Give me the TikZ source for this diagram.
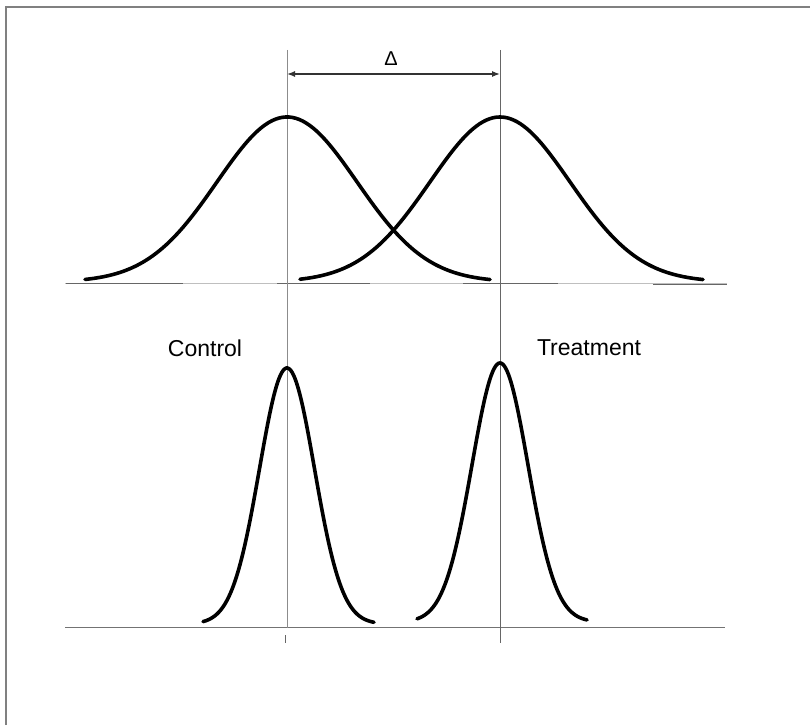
\documentclass[tikz,border=0pt]{standalone}
\usepackage{fontspec}
\setmainfont{Liberation Sans}
\usetikzlibrary{arrows.meta}
\begin{document}
\begin{tikzpicture}[x=1pt,y=-1pt,
  thin gray/.style={draw=black!45,line width=1pt},
  light base/.style={draw=black!25,line width=1pt},
  dark base/.style={draw=black!60,line width=1pt},
  curve/.style={draw=black,line width=3.6pt,line cap=round},
  lbl/.style={font=\fontsize{23}{23}\selectfont,text=black,inner sep=0pt}]
\useasboundingbox (0,0) rectangle (810,725);
% frame (top and left edges visible)
\draw[draw=black!50,line width=1.6pt] (6,725) -- (6,7) -- (810,7);
% top baseline
\draw[light base] (65,283) -- (727,283);
\draw[dark base] (66,283) -- (183,283);
\draw[dark base] (277,283) -- (370,283);
\draw[dark base] (463,283.5) -- (558,283.5);
\draw[dark base] (653,284) -- (727,284);
% bottom baseline
\draw[thin gray,draw=black!55] (65,627) -- (725,627);
% vertical reference lines
\coordinate (lt) at (287,50);
\coordinate (lb) at (287,628);
\coordinate (rt) at (500,50);
\coordinate (rb) at (500,643);
\coordinate (tt) at (285,635);
\coordinate (tb) at (285,643);
\draw[thin gray] (lt) -- (lb);
\draw[thin gray,draw=black!60] (tt) -- (tb);
\draw[thin gray,draw=black!60] (rt) -- (rb);
% delta arrow
\coordinate (dl) at (287,74);
\coordinate (dr) at (500,74);
\draw[draw=black!80,line width=1.3pt,{Latex[length=8pt,width=6pt]}-{Latex[length=8pt,width=6pt]}] (dl) -- (dr);
\node[lbl,font=\fontsize{20}{20}\selectfont] (delta) at (391,59) {Δ};
% top wide distributions
\draw[curve,domain=85:490,samples=120,smooth] plot (\x,{282-165*exp(-0.5*((\x-287)/70)^2)});
\draw[curve,domain=300:703,samples=120,smooth] plot (\x,{282-165*exp(-0.5*((\x-500)/70)^2)});
% bottom narrow distributions
\draw[curve,domain=203:374,samples=120,smooth] plot (\x,{624-256*exp(-0.5*((\x-287)/27.5)^2)});
\draw[curve,domain=417:587,samples=120,smooth] plot (\x,{622-259*exp(-0.5*((\x-500)/28)^2)});
% labels
\node[lbl] (control) at (205,348) {Control};
\node[lbl] (treat) at (589,348) {Treatment};
\end{tikzpicture}
\end{document}
